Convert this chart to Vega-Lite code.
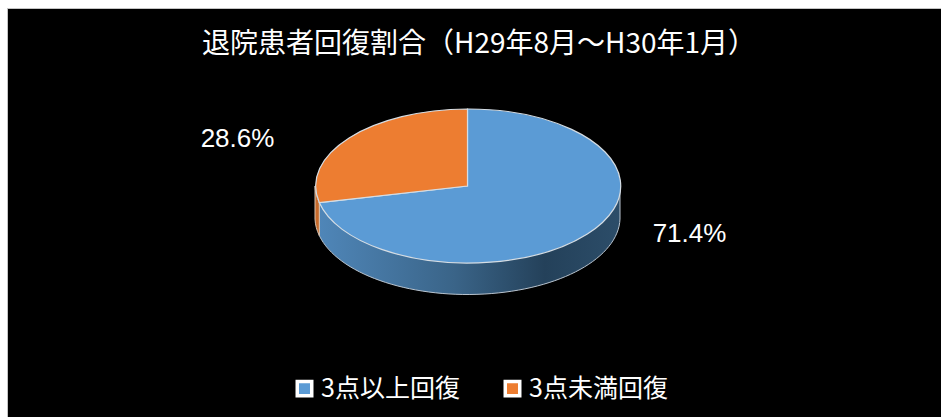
{
 "$schema":"https://vega.github.io/schema/vega-lite/v6.json",
 "width":941,"height":417,
 "autosize":{"type":"fit","contains":"padding"},
 "padding":{"left":7,"top":8,"right":0,"bottom":0},
 "background":"white",
 "view":{"fill":"black","stroke":"#c4c4c4","strokeWidth":1},
 "title":{"text":"退院患者回復割合（H29年8月～H30年1月）","frame":"group","anchor":"middle","orient":"top","offset":-51,"dx":5,"color":"white","font":"Noto Sans CJK JP","fontSize":28,"fontWeight":"normal"},
 "data":{"values":[
  {"category":"3点以上回復","share":0.714},
  {"category":"3点未満回復","share":0.286}
 ]},
 "layer":[
  {"mark":{"type":"point","filled":true,"size":1,"opacity":1,"shape":"square"},
   "encoding":{
    "color":{"field":"category","type":"nominal",
      "scale":{"domain":["3点以上回復","3点未満回復"],"range":["#5B9BD5","#ED7D31"]},
      "legend":{"title":null,"orient":"none","direction":"horizontal","legendX":285,"legendY":368,"symbolType":"square","symbolSize":210,"symbolStrokeColor":"white","symbolStrokeWidth":3.5,"symbolOpacity":1,"labelColor":"white","labelFont":"Noto Sans CJK JP","labelFontSize":25,"labelOffset":4,"columnPadding":38,"labelLimit":300}}
   }},
  {"transform":[{"filter":"datum.share > 0.5"}],
   "mark":{"type":"point","filled":true,"opacity":1,"size":4,"xOffset":-6.5,"yOffset":-26.5,
    "shape":"M-148.2 16.6 A152.5 77 0 0 0 152.5 0 L152.5 33 A152.5 77 0 0 1 -148.2 49.6 Z",
    "fill":{"gradient":"linear","x1":0,"y1":0,"x2":1,"y2":0,"stops":[{"offset":0,"color":"#4f86b8"},{"offset":0.45,"color":"#3a6488"},{"offset":0.75,"color":"#24415a"},{"offset":1,"color":"#2c4d69"}]},
    "stroke":"#b9c4cf","strokeWidth":1},"encoding":{}},
  {"transform":[{"filter":"datum.share < 0.5"}],
   "mark":{"type":"point","filled":true,"opacity":1,"size":4,"xOffset":-6.5,"yOffset":-26.5,
    "shape":"M-152.5 0 A152.5 77 0 0 0 -148.2 16.6 L-148.2 49.6 A152.5 77 0 0 1 -152.5 33 Z",
    "fill":"#c66a2b","stroke":"#d9c3b0","strokeWidth":1},"encoding":{}},
  {"transform":[{"filter":"datum.share > 0.5"}],
   "mark":{"type":"point","filled":true,"opacity":1,"size":4,"xOffset":-6.5,"yOffset":-26.5,"stroke":"#d5dde4","strokeWidth":1.2,"fill":"#5B9BD5",
    "shape":"M0 0 L0 -77 A152.5 77 0 1 1 -148.2 16.6 Z"},"encoding":{}},
  {"transform":[{"filter":"datum.share < 0.5"}],
   "mark":{"type":"point","filled":true,"opacity":1,"size":4,"xOffset":-6.5,"yOffset":-26.5,"stroke":"#d5dde4","strokeWidth":1.2,"fill":"#ED7D31",
    "shape":"M0 0 L-148.2 16.6 A152.5 77 0 0 1 0 -77 Z"},"encoding":{}},
  {"transform":[{"filter":"datum.share > 0.5"}],
   "mark":{"type":"text","color":"white","font":"Liberation Sans","fontSize":26,"xOffset":215.5,"yOffset":21.5},
   "encoding":{"text":{"field":"share","type":"quantitative","format":".1%"}}},
  {"transform":[{"filter":"datum.share < 0.5"}],
   "mark":{"type":"text","color":"white","font":"Liberation Sans","fontSize":26,"xOffset":-236.5,"yOffset":-73.5},
   "encoding":{"text":{"field":"share","type":"quantitative","format":".1%"}}}
 ]
}
